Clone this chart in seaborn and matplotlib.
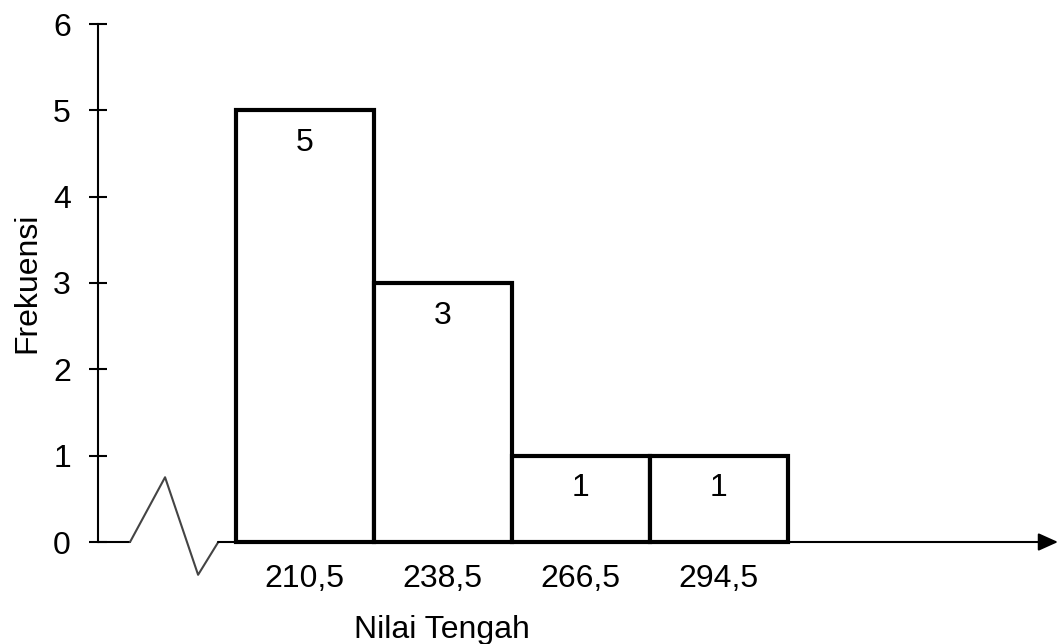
import matplotlib
matplotlib.use("Agg")
import matplotlib.pyplot as plt
import seaborn as sns
import numpy as np

# histogram data (class midpoints and frequencies)
nilai_tengah = [210.5, 238.5, 266.5, 294.5]
frekuensi = [5, 3, 1, 1]
tick_labels = ["210,5", "238,5", "266,5", "294,5"]
class_width = 28

sns.set_theme(style="white")
plt.rcParams['font.family'] = ['Liberation Sans', 'DejaVu Sans']
plt.rcParams['text.color'] = 'black'
plt.rcParams['xtick.color'] = 'black'
plt.rcParams['ytick.color'] = 'black'
plt.rcParams['axes.labelcolor'] = 'black'
FS = 23

fig = plt.figure(figsize=(10.61, 6.44), dpi=100)
ax = fig.add_axes([98 / 1061, 102 / 644, 960 / 1061, 518 / 644])

edges = [nilai_tengah[0] - class_width / 2] + [m + class_width / 2 for m in nilai_tengah]
sns.histplot(x=nilai_tengah, weights=frekuensi, bins=edges, ax=ax,
             color="white", edgecolor="black", linewidth=3, alpha=1)
for p in ax.patches:
    p.set_clip_on(False)
    p.set_joinstyle("miter")

# value labels inside the bars
for m, f in zip(nilai_tengah, frekuensi):
    ax.text(m, f - 0.38, str(f), ha="center", va="center", fontsize=FS)

ax.set_xlim(168.6, 363.3)
ax.set_ylim(0, 6)

# y axis
for s in ["top", "right", "bottom"]:
    ax.spines[s].set_visible(False)
ax.spines["left"].set_linewidth(1.5)
ax.spines["left"].set_color("black")
ax.set_yticks(range(0, 7))
ax.tick_params(axis="y", direction="inout", length=13, width=1.5,
               color="black", labelsize=FS, pad=13, left=True)

# x axis
ax.set_xticks(nilai_tengah)
ax.set_xticklabels(tick_labels)
ax.tick_params(axis="x", length=0, labelsize=FS, pad=16)

# axis break zigzag + arrowed x axis
zz_x = [168.6, 175.1, 182.2, 188.9, 193.0, 196.5]
zz_y = [0, 0, 0.75, -0.38, 0, 0]
ax.plot(zz_x[:2], zz_y[:2], color="black", lw=1.5, clip_on=False)
ax.plot(zz_x[1:5], zz_y[1:5], color="#444444", lw=1.5, clip_on=False)
ax.plot(zz_x[4:], zz_y[4:], color="black", lw=1.5, clip_on=False)
ax.annotate("", xy=(363.3, 0), xytext=(edges[-1], 0), annotation_clip=False,
            arrowprops=dict(arrowstyle="-|>,head_length=1.0,head_width=0.45",
                            color="black", lw=1.5, shrinkA=0, shrinkB=0))

ax.set_xlabel("Nilai Tengah", fontsize=FS)
ax.xaxis.set_label_coords((442 - 98) / 960, -0.14)
ax.set_ylabel("Frekuensi", fontsize=FS)
ax.yaxis.set_label_coords(-0.058, 0.5)

fig.savefig("out.png", dpi=100)
